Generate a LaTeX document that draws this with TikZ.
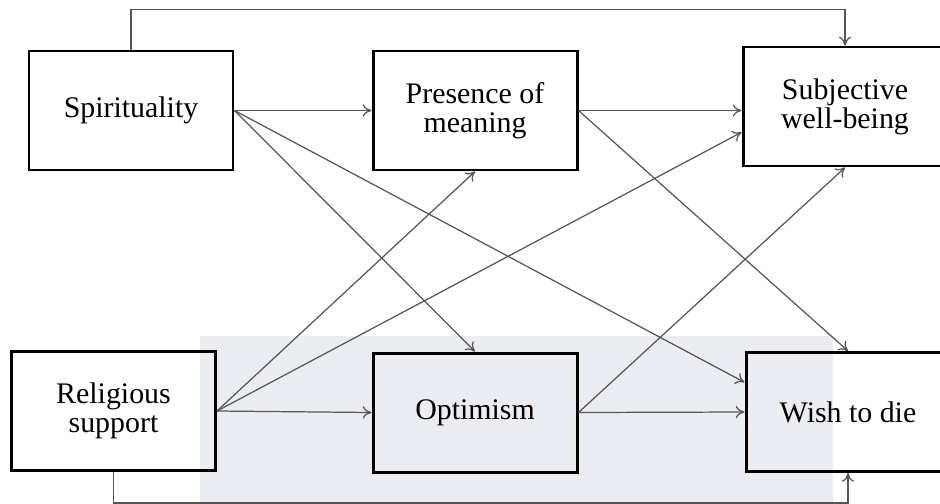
\documentclass[tikz,border=0pt]{standalone}
\usepackage{fontspec}
\setmainfont{Liberation Serif}
\usepackage{xcolor}
\usepackage{tikz}
\usetikzlibrary{positioning,calc,arrows.meta}

\definecolor{linkgray}{RGB}{85,85,85}
\definecolor{wmark}{RGB}{236,236,243}

\begin{document}
\begin{tikzpicture}[
        box/.style={draw, line width=1.7pt, minimum width=4.08cm, minimum height=2.38cm,
            inner sep=0pt, align=center, font=\fontsize{17}{16.5}\selectfont},
        link/.style={->, >={To[length=5pt,width=7pt]}, draw=linkgray, line width=0.7pt}
    ]
        \useasboundingbox (0,0) rectangle (18.8,10.06);
        % faint background mark
        \fill[wmark] (4.0,0) rectangle (16.66,3.34);

        \node[box] (spir) at (2.62,7.85) {Spirituality};
        \node[box] (pres) at (9.50,7.85) {Presence of\\meaning};
        \node[box] (subj) at (16.90,7.93) {Subjective\\well-being};
        \node[box] (rel) at (2.27,1.84) {Religious\\support};
        \node[box] (opt) at (9.50,1.81) {Optimism};
        \node[box] (wish) at (16.96,1.82) {Wish to die};

        \draw[link] (spir.east) -- (pres.west);
        \draw[link] (spir.east) -- (opt.north);
        \draw[link] (spir.east) -- (wish.164);
        \draw[link] (pres.east) -- (pres.east -| subj.west);
        \draw[link] (pres.east) -- (wish.north);
        \draw[link] (rel.east) -- (pres.south);
        \draw[link] (rel.east) -- (subj.194);
        \draw[link] (rel.east) -- (opt.west);
        \draw[link] (opt.east) -- (subj.south);
        \draw[link] (opt.east) -- (wish.west);

        \draw[link] (spir.north) -- ++(0,0.8) -| (subj.north);
        \draw[link] (rel.south) -- ++(0,-0.62) -| (wish.south);
    \end{tikzpicture}
\end{document}
